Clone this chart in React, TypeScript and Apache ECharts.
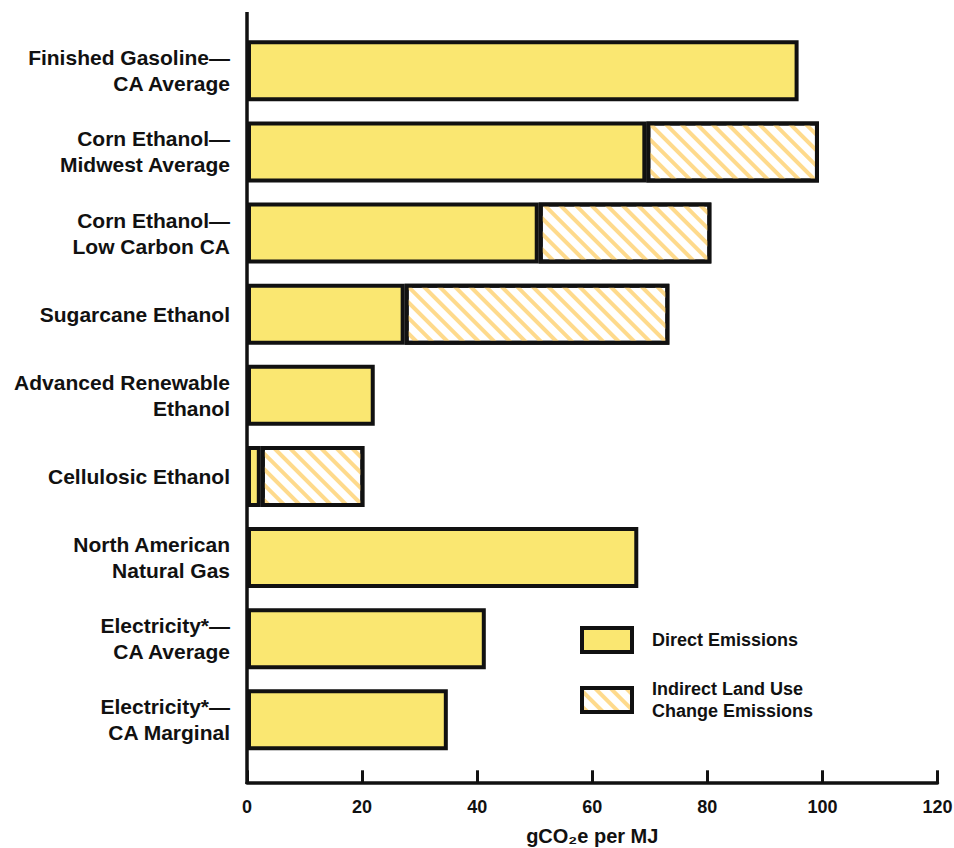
import React, { useEffect, useRef } from "react";
import * as echarts from "echarts";

const categories = [
  "Finished Gasoline—\nCA Average",
  "Corn Ethanol—\nMidwest Average",
  "Corn Ethanol—\nLow Carbon CA",
  "Sugarcane Ethanol",
  "Advanced Renewable\nEthanol",
  "Cellulosic Ethanol",
  "North American\nNatural Gas",
  "Electricity*—\nCA Average",
  "Electricity*—\nCA Marginal",
];

const directEmissions = [95.86, 69.4, 50.7, 27.4, 22.2, 2.4, 68.0, 41.5, 34.9];
const indirectEmissions: (number | null)[] = [null, 30, 30, 46, null, 18, null, null, null];

const xTicks = { min: 0, max: 120, interval: 20 };

const seriesNames = ["Direct Emissions", "Indirect Land Use\nChange Emissions"];

export default function App() {
  const ref = useRef<HTMLDivElement>(null);

  useEffect(() => {
    document.body.style.margin = "0";
    if (!ref.current) return;
    const chart = echarts.init(ref.current, null, { renderer: "svg" });
    const font = "'Liberation Sans', Arial, Helvetica, sans-serif";
    const gridTop = 30.3;
    const gridHeight = 730;
    const gridLeft = 247;
    const axisOffset = 22;

    chart.setOption({
      animation: false,
      backgroundColor: "#ffffff",
      grid: {
        left: gridLeft,
        right: 16.5,
        top: gridTop,
        height: gridHeight,
        containLabel: false,
        outerBoundsMode: "none",
      },
      xAxis: {
        type: "value",
        min: xTicks.min,
        max: xTicks.max,
        interval: xTicks.interval,
        offset: axisOffset,
        name: "gCO₂e per MJ",
        nameLocation: "middle",
        nameGap: 44,
        nameTextStyle: { fontFamily: font, fontWeight: "bold", fontSize: 20, color: "#111" },
        axisLine: { show: true, lineStyle: { color: "#111", width: 3.5 } },
        axisTick: { show: true, inside: true, length: 12, lineStyle: { color: "#111", width: 3 } },
        axisLabel: { fontFamily: font, fontWeight: "bold", fontSize: 18, color: "#111", margin: 16 },
        splitLine: { show: false },
      },
      yAxis: {
        type: "category",
        data: categories,
        inverse: true,
        axisLine: { show: false },
        axisTick: { show: false },
        axisLabel: {
          fontFamily: font,
          fontWeight: "bold",
          fontSize: 21,
          lineHeight: 26,
          color: "#111",
          margin: 17,
          align: "right",
        },
      },
      legend: {
        orient: "vertical",
        left: 580,
        top: 626,
        itemWidth: 50,
        itemHeight: 24,
        itemGap: 24,
        padding: 0,
        icon: "rect",
        data: seriesNames,
        itemStyle: { borderWidth: 4, borderColor: "#111" },
        textStyle: {
          fontFamily: font,
          fontWeight: "bold",
          fontSize: 18,
          lineHeight: 22,
          color: "#111",
          padding: [0, 0, 0, 15],
        },
      },
      series: [
        {
          name: seriesNames[0],
          type: "bar",
          stack: "total",
          data: directEmissions,
          barWidth: 61,
          itemStyle: { color: "#FAE771", borderColor: "#111", borderWidth: 4 },
        },
        {
          name: seriesNames[1],
          type: "bar",
          stack: "total",
          data: indirectEmissions.map((v) => (v == null ? "-" : v)),
          barWidth: 61,
          itemStyle: {
            color: "#ffffff",
            borderColor: "#111",
            borderWidth: 4,
            decal: {
              symbol: "rect",
              symbolSize: 1,
              color: "#FEDA8C",
              dashArrayX: [1, 0],
              dashArrayY: [4, 7],
              rotation: Math.PI / 4,
            },
          },
        },
      ],
      graphic: [
        {
          type: "line",
          z: 10,
          shape: { x1: gridLeft, y1: 12, x2: gridLeft, y2: gridTop + gridHeight + axisOffset + 1.7 },
          style: { stroke: "#111", lineWidth: 3.5 },
        },
      ],
    });

    return () => chart.dispose();
  }, []);

  return <div ref={ref} style={{ width: 954, height: 848 }} />;
}
